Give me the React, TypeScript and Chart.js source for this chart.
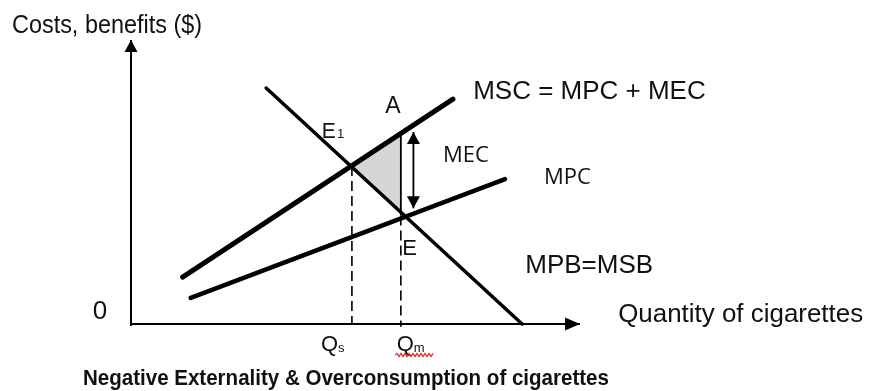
import React, { useEffect, useRef } from "react";
import { Chart, registerables } from "chart.js";

Chart.register(...registerables);

const W = 869;
const H = 391;

// Curves (x: quantity units 0..100, y: cost/benefit units 0..100)
const mscCurve = [
  { x: 11.5, y: 16.5 },
  { x: 71.7, y: 79.2 },
];
const mpcCurve = [
  { x: 13.3, y: 9.2 },
  { x: 83.3, y: 51.0 },
];
const mpbCurve = [
  { x: 30.1, y: 83.1 },
  { x: 87.1, y: 0 },
];
const pointE1 = { x: 49.2, y: 55.6 };
const pointA = { x: 60.1, y: 67.4 };
const pointE = { x: 60.1, y: 38.2 };
const qs = 49.2;
const qm = 60.1;
const mecArrow = [
  { x: 62.9, y: 67.6 },
  { x: 62.9, y: 40.8 },
];
const axisX = [
  { x: 0, y: 0 },
  { x: 100, y: 0 },
];
const axisY = [
  { x: 0, y: -0.7 },
  { x: 0, y: 100 },
];

const SANS = "'Liberation Sans', Arial, sans-serif";
const OPEN = "'Open Sans', 'Noto Sans', sans-serif";

// Text annotations: data-space anchor (left, baseline)
const textLabels = [
  { text: "Costs, benefits ($)", x: -26.5, y: 102.5, font: `25px ${SANS}`, maxW: 190 },
  { text: "MSC = MPC + MEC", x: 76.2, y: 79.2, font: `26px ${SANS}`, maxW: 234 },
  { text: "MEC", x: 69.5, y: 57.0, font: `22px ${OPEN}`, maxW: 46 },
  { text: "MPC", x: 92.0, y: 49.3, font: `22px ${OPEN}`, maxW: 49 },
  { text: "MPB=MSB", x: 87.8, y: 18.0, font: `26px ${SANS}`, maxW: 128 },
  { text: "Quantity of cigarettes", x: 108.5, y: 0.7, font: `26px ${SANS}`, maxW: 245 },
  { text: "0", x: -8.5, y: 1.8, font: `26px ${SANS}`, maxW: 16 },
  { text: "E", x: 42.5, y: 65.5, font: `22px ${SANS}`, maxW: 14 },
  { text: "1", x: 45.9, y: 65.5, font: `13px ${SANS}`, maxW: 8 },
  { text: "A", x: 56.6, y: 74.3, font: `23px ${SANS}`, maxW: 17 },
  { text: "E", x: 60.4, y: 24.3, font: `22px ${SANS}`, maxW: 15 },
  { text: "Q", x: 42.3, y: -9.5, font: `22px ${SANS}`, maxW: 18 },
  { text: "s", x: 46.1, y: -9.9, font: `13px ${SANS}`, maxW: 8 },
  { text: "Q", x: 59.2, y: -9.5, font: `22px ${SANS}`, maxW: 18 },
  { text: "m", x: 63.0, y: -9.9, font: `13px ${SANS}`, maxW: 12 },
  {
    text: "Negative Externality & Overconsumption of cigarettes",
    x: -10.7,
    y: -21.5,
    font: `bold 22px ${SANS}`,
    maxW: 526,
  },
];
const squiggle = { x0: 58.8, x1: 67.3, y: -10.9 };

const arrowPlugin = {
  id: "arrowHeads",
  afterDatasetsDraw(chart: any) {
    const ctx = chart.ctx;
    chart.data.datasets.forEach((ds: any, i: number) => {
      const a = ds.arrow;
      if (!a) return;
      const pts = chart.getDatasetMeta(i).data;
      if (!pts || pts.length < 2) return;
      const head = (tip: any, from: any) => {
        const ang = Math.atan2(tip.y - from.y, tip.x - from.x);
        const c = Math.cos(ang);
        const s = Math.sin(ang);
        const bx = tip.x - a.len * c;
        const by = tip.y - a.len * s;
        const hw = a.width / 2;
        ctx.save();
        ctx.fillStyle = "#000";
        ctx.beginPath();
        ctx.moveTo(tip.x, tip.y);
        ctx.lineTo(bx - hw * s, by + hw * c);
        ctx.lineTo(bx + hw * s, by - hw * c);
        ctx.closePath();
        ctx.fill();
        ctx.restore();
      };
      const n = pts.length;
      if (a.end) head(pts[n - 1], pts[n - 2]);
      if (a.start) head(pts[0], pts[1]);
    });
  },
};

const textPlugin = {
  id: "textLabels",
  afterDraw(chart: any) {
    const ctx = chart.ctx;
    const xs = chart.scales.x;
    const ys = chart.scales.y;
    ctx.save();
    ctx.fillStyle = "#111";
    ctx.textAlign = "left";
    ctx.textBaseline = "alphabetic";
    textLabels.forEach((l) => {
      ctx.font = l.font;
      ctx.fillText(l.text, xs.getPixelForValue(l.x), ys.getPixelForValue(l.y), l.maxW);
    });
    // red spell-check squiggle under Qm
    const px0 = xs.getPixelForValue(squiggle.x0);
    const px1 = xs.getPixelForValue(squiggle.x1);
    const py = ys.getPixelForValue(squiggle.y);
    ctx.strokeStyle = "#e8303a";
    ctx.lineWidth = 1.3;
    ctx.beginPath();
    let up = true;
    ctx.moveTo(px0, py);
    for (let x = px0 + 2; x <= px1; x += 2) {
      ctx.lineTo(x, py + (up ? -1.5 : 1.5));
      up = !up;
    }
    ctx.stroke();
    ctx.restore();
  },
};

export default function App() {
  const ref = useRef<HTMLCanvasElement | null>(null);

  useEffect(() => {
    if (!ref.current) return;
    const line = (data: any[], width: number, extra: any = {}) => ({
      data,
      showLine: true,
      borderColor: "#000",
      backgroundColor: "#000",
      borderWidth: width,
      pointRadius: 0,
      pointHoverRadius: 0,
      fill: false,
      clip: false,
      borderCapStyle: "round",
      ...extra,
    });
    const chart = new Chart(ref.current, {
      type: "scatter",
      data: {
        datasets: [
          line(axisY, 2, { arrow: { end: true, len: 12, width: 13 }, borderCapStyle: "butt" }),
          line(axisX, 2, { arrow: { end: true, len: 15, width: 13 }, borderCapStyle: "butt" }),
          line(mscCurve, 5),
          line(mpcCurve, 4.5),
          line(mpbCurve, 3.5),
          line(
            [
              { x: qs, y: pointE1.y },
              { x: qs, y: 0 },
            ],
            1.6,
            { borderDash: [10, 5], borderCapStyle: "butt" }
          ),
          line(
            [
              { x: qm, y: pointE.y },
              { x: qm, y: -1 },
            ],
            1.6,
            { borderDash: [10, 5], borderCapStyle: "butt" }
          ),
          line([pointA, pointE], 1.8, { borderCapStyle: "butt" }),
          line(mecArrow, 1.8, {
            arrow: { start: true, end: true, len: 12, width: 13 },
            borderCapStyle: "butt",
          }),
          {
            data: [pointE1, pointA, pointE, pointE1],
            showLine: true,
            borderWidth: 0,
            borderColor: "rgba(0,0,0,0)",
            backgroundColor: "#d6d6d6",
            pointRadius: 0,
            fill: "shape",
            clip: false,
          },
        ] as any,
      },
      options: {
        responsive: false,
        animation: false,
        events: [],
        layout: { padding: { left: 131, right: 289, top: 40, bottom: 67 } },
        plugins: {
          legend: { display: false },
          tooltip: { enabled: false },
          title: { display: false },
        },
        scales: {
          x: { type: "linear", min: 0, max: 100, display: false },
          y: { type: "linear", min: 0, max: 100, display: false },
        },
      } as any,
      plugins: [arrowPlugin, textPlugin],
    });
    return () => chart.destroy();
  }, []);

  return (
    <div
      style={{
        position: "absolute",
        left: 0,
        top: 0,
        width: W,
        height: H,
        background: "#fff",
      }}
    >
      <canvas ref={ref} width={W} height={H} style={{ width: W, height: H }} />
    </div>
  );
}
